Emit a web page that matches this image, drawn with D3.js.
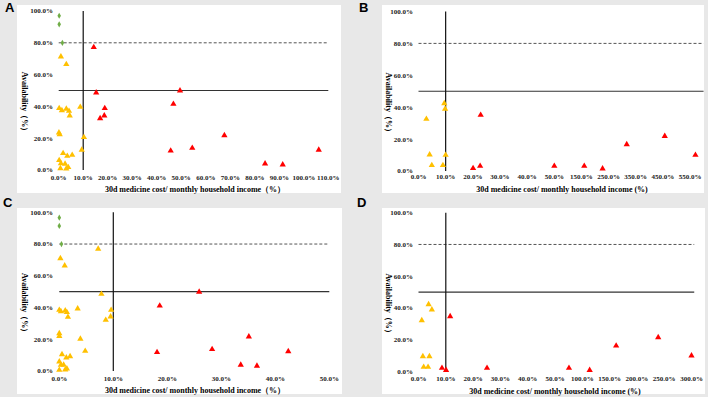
<!DOCTYPE html>
<html><head><meta charset="utf-8">
<script src="https://cdn.jsdelivr.net/npm/d3@7"></script>
<style>
html,body{margin:0;padding:0;background:#e8e8e8;}
svg{display:block;}
</style></head>
<body>
<script>
// ---------- data ----------
const yTicks = [0, 20, 40, 60, 80, 100];
const xTicksA = [0,10,20,30,40,50,60,70,80,90,100,110];
const xTicksB = [0,10,20,30,40,50,150,250,350,450,550];
const xTicksC = [0,10,20,30,40,50];
const xTicksD = [0,10,20,30,40,50,100,150,200,250,300];

const costThreshold = 10;   // vertical reference line (%)
const availabilityLine = 50; // solid horizontal line (%)
const targetLine = 80;       // dashed horizontal line (%)

const greenA = [[0.2,97],[0.2,91.6],[1.5,80]];
const yellowA = [[0.9,71.3],[3.1,66.5],[0.2,38.8],[1.3,37.5],[3.1,38.4],[4.2,37.1],[4.5,34.2],[8.8,39.6],
  [10.3,20.6],[9.4,12.6],[0.1,23.5],[0.4,22.4],[1.8,10.5],[3.5,8.8],[5.5,9.4],[0.2,6.1],[0.9,4.2],[2.6,3.8],
  [0.7,1.0],[3.1,0.8],[3.9,1.7]];
const redA = [[14.3,77.2],[15.3,48.6],[18.8,38.8],[18.6,34.2],[16.9,32.5],[46.8,41.5],[49.5,49.9],[45.7,12.1],
  [54.5,13.8],[67.6,21.8],[84.2,4.0],[91.4,3.4],[106.1,12.6]];

const greenB = [];
const yellowB = [[9.5,42.4],[9.8,38.9],[2.9,32.6],[4.1,10.2],[10.0,10.0],[4.9,3.6],[9.0,3.6]];
const redB = [[22.9,35.1],[20.1,1.7],[22.7,3.1],[50.2,3.1],[160.5,3.1],[228,1.5],[317,16.7],[457,21.9],[570,10.0]];

const greenC = [[0,96.6],[0,91.4],[0.4,80]];
const yellowC = [[7.2,76.9],[0.2,71],[1.0,66.4],[7.8,48.5],[0,38.4],[0.3,37.6],[1.1,38],[1.4,37],[1.6,34],
  [3.4,39.3],[9.6,38.4],[9.5,34.2],[8.6,32.1],[0,23.7],[0,22],[3.9,20.2],[0.5,10.5],[1.3,8.4],[2.0,9.2],
  [4.8,12.6],[0,5.9],[0.3,3.8],[0.8,3.8],[0,0.6],[1.1,0.8],[1.4,1.5]];
const redC = [[18.6,41.1],[18.1,11.8],[25.9,49.8],[28.3,13.7],[35.1,21.6],[33.6,3.8],[36.6,3.2],[42.4,12.4]];

const greenD = [];
const yellowD = [[3.7,42.3],[4.9,38.9],[1.2,32.2],[1.6,9.5],[4.0,9.5],[1.9,2.8],[3.5,2.8]];
const redD = [[11.6,34.7],[8.6,2.2],[10.1,0.9],[25.1,2.2],[75.6,2.2],[113.5,0.9],[162,16.2],[239,21.5],[300,10.0]];

const xTitleFW = "30d medicine cost/ monthly household income（%）";
const xTitleHW = "30d medicine cost/ monthly household income (%)";
const yTitle = "Availability（%）";

// ---------- layout ----------
const W = 708, H = 397;
const svg = d3.select("body").append("svg").attr("width", W).attr("height", H);
svg.append("rect").attr("width", W).attr("height", H).attr("fill", "#e8e8e8");

const panels = [
  {label:"A", lx:5, ly:12, box:[17,5,341,193], xDom:[0,110], xRange:[58.7,328.3], yRange:[170,11],
   xTicks:xTicksA, lineEnd:110, tickY:178, titleY:189.5, titleX:195, xTitle:xTitleFW, yLabelX:53, yTitleX:25,
   green:greenA, yellow:yellowA, red:redA},
  {label:"B", lx:359, ly:12, box:[382,5,704,193], xDom:[0,50,550], xRange:[418.5,554.25,690], yRange:[171,11.5],
   xTicks:xTicksB, lineEnd:600, tickY:177, titleY:189, titleX:562, xTitle:xTitleHW, yLabelX:413, yTitleX:389,
   green:greenB, yellow:yellowB, red:redB},
  {label:"C", lx:3, ly:207, box:[17,208,342,394], xDom:[0,50], xRange:[59.3,329.3], yRange:[371,212.3],
   xTicks:xTicksC, lineEnd:50, tickY:378.5, titleY:390.5, titleX:195, xTitle:xTitleFW, yLabelX:53, yTitleX:25,
   green:greenC, yellow:yellowC, red:redC},
  {label:"D", lx:357, ly:207, box:[382,208,705,394], xDom:[0,50,300], xRange:[418.5,555,691.5], yRange:[371.5,212.7],
   xTicks:xTicksD, lineEnd:305, tickY:379, titleY:391, titleX:555, xTitle:xTitleHW, yLabelX:413, yTitleX:389,
   green:greenD, yellow:yellowD, red:redD}
];

const serif = "'Liberation Serif','Times New Roman',serif";
const fmt = v => v.toFixed(1) + "%";
const tri = d3.symbol().type(d3.symbolTriangle).size(17);
const dia = d3.symbol().type(d3.symbolDiamond).size(11);

panels.forEach(p => {
  const g = svg.append("g");
  const [x0,y0,x1,y1] = p.box;
  g.append("rect").attr("x",x0).attr("y",y0).attr("width",x1-x0).attr("height",y1-y0).attr("fill","#ffffff");
  g.append("text").attr("x",p.lx).attr("y",p.ly).text(p.label)
    .attr("font-family","'Liberation Sans',Arial,sans-serif").attr("font-weight","bold").attr("font-size",13).attr("fill","#000");

  const x = d3.scaleLinear().domain(p.xDom).range(p.xRange);
  const y = d3.scaleLinear().domain([0,100]).range(p.yRange);

  // y tick labels
  g.selectAll(".yt").data(yTicks).join("text")
    .attr("x", p.yLabelX).attr("y", d => y(d)).attr("dy","0.35em")
    .attr("text-anchor","end").attr("font-family",serif).attr("font-weight","bold").attr("font-size",7)
    .attr("fill","#1a1a1a").text(fmt);
  // x tick labels
  g.selectAll(".xt").data(p.xTicks).join("text")
    .attr("x", d => x(d)).attr("y", p.tickY).attr("dy","0.35em")
    .attr("text-anchor","middle").attr("font-family",serif).attr("font-weight","bold").attr("font-size",7)
    .attr("fill","#1a1a1a").text(fmt);
  // titles
  g.append("text").attr("x",p.titleX).attr("y",p.titleY).attr("dy","0.35em").attr("text-anchor","middle")
    .attr("font-family",serif).attr("font-weight","bold").attr("font-size",8).attr("fill","#000").text(p.xTitle);
  const ym = (p.yRange[0]+p.yRange[1])/2 + 13;
  g.append("text").attr("transform",`translate(${p.yTitleX},${ym}) rotate(90)`).attr("dy","0.35em")
    .attr("text-anchor","middle").attr("font-family",serif).attr("font-weight","bold").attr("font-size",8)
    .attr("fill","#000").text(yTitle);

  // reference lines
  g.append("line").attr("x1",x(0)).attr("x2",x(p.lineEnd)).attr("y1",y(targetLine)).attr("y2",y(targetLine))
    .attr("stroke","#555").attr("stroke-width",1).attr("stroke-dasharray","3,2");
  g.append("line").attr("x1",x(0)).attr("x2",x(p.lineEnd)).attr("y1",y(availabilityLine)).attr("y2",y(availabilityLine))
    .attr("stroke","#333").attr("stroke-width",1.2);
  g.append("line").attr("x1",x(costThreshold)).attr("x2",x(costThreshold)).attr("y1",y(100)).attr("y2",y(0))
    .attr("stroke","#111").attr("stroke-width",1.2);

  // markers
  g.selectAll(".g").data(p.green).join("path").attr("d",dia)
    .attr("transform",d=>`translate(${x(d[0])},${y(d[1])})`).attr("fill","#70ad47");
  g.selectAll(".yl").data(p.yellow).join("path").attr("d",tri)
    .attr("transform",d=>`translate(${x(d[0])},${y(d[1])})`).attr("fill","#ffc000");
  g.selectAll(".rd").data(p.red).join("path").attr("d",tri)
    .attr("transform",d=>`translate(${x(d[0])},${y(d[1])})`).attr("fill","#ff0000");
});
</script>
</body></html>
